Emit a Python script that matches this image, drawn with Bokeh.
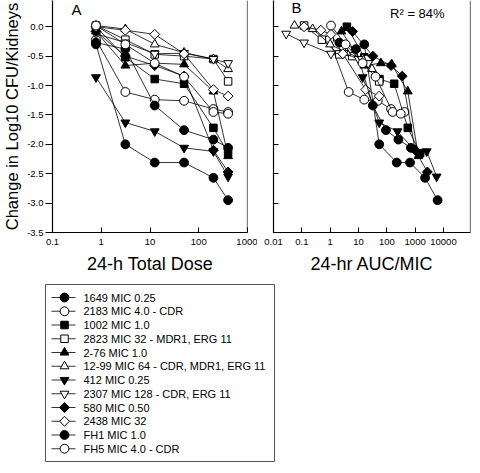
import numpy as np
from bokeh.plotting import figure
from bokeh.models import Range1d, FixedTicker, PrintfTickFormatter, Span, Label
from bokeh.core.properties import value
from bokeh.layouts import column, row
from bokeh.embed import file_html
from bokeh.resources import INLINE

FONT = "Liberation Sans"

# ---------------- data ----------------
doses = [0.78, 3.125, 12.5, 50, 200, 400]

strains = ["1649 MIC 0.25", "2183 MIC 4.0 - CDR", "1002 MIC 1.0",
           "2823 MIC 32 - MDR1, ERG 11", "2-76 MIC 1.0",
           "12-99 MIC 64 - CDR, MDR1, ERG 11", "412 MIC 0.25",
           "2307 MIC 128 - CDR, ERG 11", "580 MIC 0.50", "2438 MIC 32",
           "FH1 MIC 1.0", "FH5 MIC 4.0 - CDR"]
markers = ["circle", "circle", "square", "square", "triangle", "triangle",
           "inverted_triangle", "inverted_triangle", "diamond", "diamond",
           "circle", "circle"]
filled = [True, False, True, False, True, False, True, False, True, False, True, False]

# change in log10 CFU/kidneys at each 24-h total dose
change_1649 = [-0.30, -2.00, -2.31, -2.31, -2.57, -2.95]
change_2183 = [-0.22, -1.11, -1.24, -1.26, -1.40, -1.45]
change_1002 = [0.00, -0.52, -0.89, -0.97, -1.72, -2.15]
change_2823 = [0.02, -0.22, -0.47, -0.50, -0.55, -0.93]
change_276 = [-0.08, -0.66, -0.62, -0.64, -1.10, -2.20]
change_1299 = [0.02, -0.04, -0.30, -0.44, -0.55, -0.72]
change_412 = [-0.86, -1.63, -1.78, -2.06, -2.12, -2.55]
change_2307 = [-0.12, -0.27, -0.46, -0.45, -0.55, -0.62]
change_580 = [-0.08, -0.50, -0.66, -0.84, -2.10, -2.47]
change_2438 = [0.00, -0.06, -0.13, -0.46, -1.07, -1.18]
change_fh1 = [-0.27, -0.38, -1.34, -1.76, -1.92, -2.06]
change_fh5 = [0.02, -0.30, -0.62, -0.85, -1.45, -1.48]

# 24-hr AUC/MIC for the same dose levels
auc_1649 = [16, 54, 224, 660, 2240, 6200]
auc_2183 = [0.93, 4.5, 16, 48, 141, 420]
auc_1002 = [3.9, 16, 55, 182, 550, 1500]
auc_2823 = [0.12, 0.51, 2.1, 6.0, 22, 54]
auc_276 = [2.5, 16, 62, 150, 550, 1300]
auc_1299 = [0.055, 0.24, 1.0, 3.8, 14, 30]
auc_412 = [14, 54, 240, 800, 2570, 5750]
auc_2307 = [0.028, 0.12, 1.07, 3.0, 10, 22]
auc_580 = [6.2, 32, 141, 350, 1000, 2700]
auc_2438 = [0.12, 0.47, 1.07, 2.8, 18, 54]
auc_fh1 = [2.1, 8.1, 32, 93, 257, 710]
auc_fh5 = [1.07, 3.5, 14, 40, 160, 310]

changes = [change_1649, change_2183, change_1002, change_2823, change_276, change_1299,
           change_412, change_2307, change_580, change_2438, change_fh1, change_fh5]
aucs = [auc_1649, auc_2183, auc_1002, auc_2823, auc_276, auc_1299,
        auc_412, auc_2307, auc_580, auc_2438, auc_fh1, auc_fh5]

dose_ticks = [0.1, 1, 10, 100, 1000]
auc_ticks = [0.01, 0.1, 1, 10, 100, 1000, 10000]
y_ticks = [0.0, -0.5, -1.0, -1.5, -2.0, -2.5, -3.0, -3.5]


def marker_style(m):
    # diamonds drawn as rotated squares
    if m == "diamond":
        return dict(marker="square", angle=np.pi / 4, size=7)
    if m == "square":
        return dict(marker="square", size=7.5)
    return dict(marker=m, size=8.8)


def style_axis(ax):
    ax.axis_line_color = "black"
    ax.axis_line_width = 1.2
    ax.major_tick_line_color = "black"
    ax.major_tick_line_width = 1
    ax.minor_tick_line_color = None
    ax.major_label_text_font = FONT
    ax.major_label_text_font_size = "9.5px"
    ax.major_label_text_color = "black"
    ax.axis_label_text_font = FONT
    ax.axis_label_text_font_style = "normal"
    ax.axis_label_text_color = "black"


def make_panel(xs_list, x_range, width, min_left, ticks, xlabel, show_ylabels):
    p = figure(width=width, height=276, x_axis_type="log", x_range=x_range,
               y_range=Range1d(-3.5, 0.446), output_backend="svg", toolbar_location=None,
               min_border_left=min_left, min_border_right=10 if show_ylabels else 2,
               min_border_top=0, min_border_bottom=43)
    p.outline_line_color = None
    p.grid.visible = False
    for xs, ys, m, f in zip(xs_list, changes, markers, filled):
        p.line(xs, ys, line_color="black", line_width=0.8)
        p.scatter(xs, ys, line_color="black", line_width=1,
                  fill_color="black" if f else "white", **marker_style(m))
    xa = p.xaxis[0]
    ya = p.yaxis[0]
    style_axis(xa)
    style_axis(ya)
    xa.ticker = FixedTicker(ticks=ticks, minor_ticks=[])
    xa.major_label_overrides = {t: (str(t) if t < 1 else str(int(t))) for t in ticks}
    xa.major_tick_in = 5
    xa.major_tick_out = 0
    xa.major_label_standoff = 6
    xa.axis_label = xlabel
    xa.axis_label_text_font_size = "18px"
    xa.axis_label_standoff = 6
    ya.ticker = FixedTicker(ticks=y_ticks, minor_ticks=[])
    if show_ylabels:
        ya.formatter = PrintfTickFormatter(format="%.1f")
        ya.major_tick_in = 0
        ya.major_tick_out = 7
        ya.major_label_standoff = 2
        ya.axis_label = "Change in Log10 CFU/Kidneys"
        ya.axis_label_text_font_size = "16.5px"
        ya.axis_label_standoff = 3
    else:
        ya.major_tick_in = 5
        ya.major_tick_out = 0
        ya.major_label_text_color = None
        ya.major_label_standoff = 0
    p.add_layout(Span(location=x_range.end, dimension="height", line_color="black",
                      line_width=1.2))
    return p


pA = make_panel([doses] * 12, Range1d(0.1, 1000), 257, 46, dose_ticks,
                "24-h Total Dose", True)
pB = make_panel(aucs, Range1d(0.01, 9e4), 215, 16, auc_ticks, "24-hr AUC/MIC", False)

pA.add_layout(Label(x=0.31, y=0.30, text="A", text_font=FONT, text_font_size="15px",
                    text_align="center", text_baseline="middle", text_color="black"))
pB.add_layout(Label(x=0.065, y=0.32, text="B", text_font=FONT, text_font_size="15px",
                    text_align="center", text_baseline="middle", text_color="black"))
pB.add_layout(Label(x=11000, y=0.225, text="R\u00b2 = 84%", text_font=FONT,
                    text_font_size="13px", text_align="right", text_baseline="middle",
                    text_color="black"))

# ---------------- legend panel (drawn in pixel units) ----------------
LW, LH = 300, 188
pL = figure(width=LW, height=LH, x_range=Range1d(0, LW), y_range=Range1d(0, LH),
            output_backend="svg", toolbar_location=None, x_axis_location=None,
            y_axis_location=None, min_border=0)
pL.outline_line_color = None
pL.grid.visible = False
pL.quad(left=[45], right=[274], bottom=[3], top=[180], fill_color="white",
        line_color="#555555", line_width=1)
n = len(strains)
row_y = [167 - 13.75 * i for i in range(n)]
pL.segment(x0=[51] * n, x1=[75] * n, y0=row_y, y1=row_y, line_color="black",
           line_width=0.8)
for yy, m, f in zip(row_y, markers, filled):
    pL.scatter([64], [yy], line_color="black", line_width=1,
               fill_color="black" if f else "white", **marker_style(m))
pL.text(x=[83] * n, y=row_y, text=strains, text_font=value(FONT),
        text_font_size="11px", text_baseline="middle", text_align="left",
        text_color="black")

layout = column(row(pA, pB), pL)
open("out.html", "w").write(file_html(layout, INLINE))
